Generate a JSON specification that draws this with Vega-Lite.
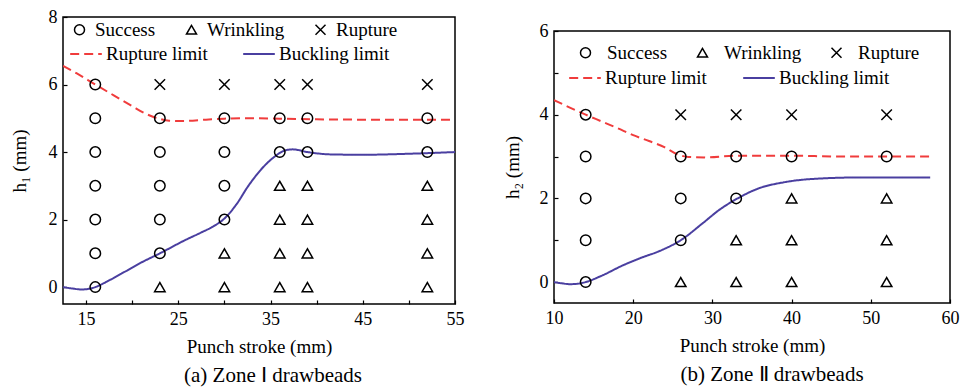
{
  "$schema": "https://vega.github.io/schema/vega-lite/v6.json",
  "padding": {"left": 9, "top": 7, "right": 0, "bottom": 5},
  "background": "white",
  "spacing": 37,
  "config": {
    "font": "Liberation Serif",
    "view": {"stroke": "black", "strokeWidth": 1.5},
    "axis": {
      "labelFont": "Liberation Serif", "labelFontSize": 18, "labelColor": "black",
      "titleFont": "Liberation Serif", "titleFontSize": 19, "titleFontWeight": "normal", "titleColor": "black",
      "domain": false, "grid": false, "tickColor": "black", "tickWidth": 1.2, "tickSize": -4,
      "labelPadding": 10, "labelFlush": false, "labelOverlap": false
    },
    "legend": {
      "labelFont": "Liberation Serif", "labelFontSize": 19, "labelColor": "black"
    },
    "title": {"font": "Liberation Serif", "fontSize": 21, "fontWeight": "normal", "color": "black"}
  },
  "datasets": {
    "pts1": [
      {"x": 16, "h": 0, "outcome": "Success"}, {"x": 16, "h": 1, "outcome": "Success"}, {"x": 16, "h": 2, "outcome": "Success"}, {"x": 16, "h": 3, "outcome": "Success"}, {"x": 16, "h": 4, "outcome": "Success"}, {"x": 16, "h": 5, "outcome": "Success"}, {"x": 16, "h": 6, "outcome": "Success"},
      {"x": 23, "h": 0, "outcome": "Wrinkling"}, {"x": 23, "h": 1, "outcome": "Success"}, {"x": 23, "h": 2, "outcome": "Success"}, {"x": 23, "h": 3, "outcome": "Success"}, {"x": 23, "h": 4, "outcome": "Success"}, {"x": 23, "h": 5, "outcome": "Success"}, {"x": 23, "h": 6, "outcome": "Rupture"},
      {"x": 30, "h": 0, "outcome": "Wrinkling"}, {"x": 30, "h": 1, "outcome": "Wrinkling"}, {"x": 30, "h": 2, "outcome": "Success"}, {"x": 30, "h": 3, "outcome": "Success"}, {"x": 30, "h": 4, "outcome": "Success"}, {"x": 30, "h": 5, "outcome": "Success"}, {"x": 30, "h": 6, "outcome": "Rupture"},
      {"x": 36, "h": 0, "outcome": "Wrinkling"}, {"x": 36, "h": 1, "outcome": "Wrinkling"}, {"x": 36, "h": 2, "outcome": "Wrinkling"}, {"x": 36, "h": 3, "outcome": "Wrinkling"}, {"x": 36, "h": 4, "outcome": "Success"}, {"x": 36, "h": 5, "outcome": "Success"}, {"x": 36, "h": 6, "outcome": "Rupture"},
      {"x": 39, "h": 0, "outcome": "Wrinkling"}, {"x": 39, "h": 1, "outcome": "Wrinkling"}, {"x": 39, "h": 2, "outcome": "Wrinkling"}, {"x": 39, "h": 3, "outcome": "Wrinkling"}, {"x": 39, "h": 4, "outcome": "Success"}, {"x": 39, "h": 5, "outcome": "Success"}, {"x": 39, "h": 6, "outcome": "Rupture"},
      {"x": 52, "h": 0, "outcome": "Wrinkling"}, {"x": 52, "h": 1, "outcome": "Wrinkling"}, {"x": 52, "h": 2, "outcome": "Wrinkling"}, {"x": 52, "h": 3, "outcome": "Wrinkling"}, {"x": 52, "h": 4, "outcome": "Success"}, {"x": 52, "h": 5, "outcome": "Success"}, {"x": 52, "h": 6, "outcome": "Rupture"}
    ],
    "curves1": [
      {"x": 12.5, "h": 6.55, "curve": "Rupture limit"}, {"x": 14, "h": 6.33, "curve": "Rupture limit"}, {"x": 16, "h": 6.0, "curve": "Rupture limit"}, {"x": 18, "h": 5.68, "curve": "Rupture limit"}, {"x": 20, "h": 5.36, "curve": "Rupture limit"}, {"x": 21.5, "h": 5.13, "curve": "Rupture limit"}, {"x": 23, "h": 4.98, "curve": "Rupture limit"}, {"x": 24, "h": 4.93, "curve": "Rupture limit"}, {"x": 25.5, "h": 4.92, "curve": "Rupture limit"}, {"x": 28, "h": 4.96, "curve": "Rupture limit"}, {"x": 30, "h": 4.99, "curve": "Rupture limit"}, {"x": 33, "h": 5.0, "curve": "Rupture limit"}, {"x": 36, "h": 4.99, "curve": "Rupture limit"}, {"x": 40, "h": 4.97, "curve": "Rupture limit"}, {"x": 45, "h": 4.96, "curve": "Rupture limit"}, {"x": 50, "h": 4.96, "curve": "Rupture limit"}, {"x": 55, "h": 4.96, "curve": "Rupture limit"},
      {"x": 12.5, "h": 0.0, "curve": "Buckling limit"}, {"x": 13.5, "h": -0.04, "curve": "Buckling limit"}, {"x": 14.5, "h": -0.07, "curve": "Buckling limit"}, {"x": 15.5, "h": -0.04, "curve": "Buckling limit"}, {"x": 16, "h": 0.0, "curve": "Buckling limit"}, {"x": 17.5, "h": 0.2, "curve": "Buckling limit"}, {"x": 19.3, "h": 0.47, "curve": "Buckling limit"}, {"x": 21, "h": 0.73, "curve": "Buckling limit"}, {"x": 23, "h": 1.0, "curve": "Buckling limit"}, {"x": 25.8, "h": 1.4, "curve": "Buckling limit"}, {"x": 27.5, "h": 1.62, "curve": "Buckling limit"}, {"x": 28.8, "h": 1.8, "curve": "Buckling limit"}, {"x": 30, "h": 2.03, "curve": "Buckling limit"}, {"x": 31.3, "h": 2.45, "curve": "Buckling limit"}, {"x": 32.6, "h": 3.0, "curve": "Buckling limit"}, {"x": 35.15, "h": 3.8, "curve": "Buckling limit"}, {"x": 36.6, "h": 4.05, "curve": "Buckling limit"}, {"x": 37.4, "h": 4.08, "curve": "Buckling limit"}, {"x": 39, "h": 4.0, "curve": "Buckling limit"}, {"x": 41.6, "h": 3.93, "curve": "Buckling limit"}, {"x": 45, "h": 3.92, "curve": "Buckling limit"}, {"x": 50, "h": 3.95, "curve": "Buckling limit"}, {"x": 55, "h": 4.0, "curve": "Buckling limit"}
    ],
    "pts2": [
      {"x": 14, "h": 0, "outcome": "Success"}, {"x": 14, "h": 1, "outcome": "Success"}, {"x": 14, "h": 2, "outcome": "Success"}, {"x": 14, "h": 3, "outcome": "Success"}, {"x": 14, "h": 4, "outcome": "Success"},
      {"x": 26, "h": 0, "outcome": "Wrinkling"}, {"x": 26, "h": 1, "outcome": "Success"}, {"x": 26, "h": 2, "outcome": "Success"}, {"x": 26, "h": 3, "outcome": "Success"}, {"x": 26, "h": 4, "outcome": "Rupture"},
      {"x": 33, "h": 0, "outcome": "Wrinkling"}, {"x": 33, "h": 1, "outcome": "Wrinkling"}, {"x": 33, "h": 2, "outcome": "Success"}, {"x": 33, "h": 3, "outcome": "Success"}, {"x": 33, "h": 4, "outcome": "Rupture"},
      {"x": 40, "h": 0, "outcome": "Wrinkling"}, {"x": 40, "h": 1, "outcome": "Wrinkling"}, {"x": 40, "h": 2, "outcome": "Wrinkling"}, {"x": 40, "h": 3, "outcome": "Success"}, {"x": 40, "h": 4, "outcome": "Rupture"},
      {"x": 52, "h": 0, "outcome": "Wrinkling"}, {"x": 52, "h": 1, "outcome": "Wrinkling"}, {"x": 52, "h": 2, "outcome": "Wrinkling"}, {"x": 52, "h": 3, "outcome": "Success"}, {"x": 52, "h": 4, "outcome": "Rupture"}
    ],
    "curves2": [
      {"x": 10, "h": 4.35, "curve": "Rupture limit"}, {"x": 12, "h": 4.17, "curve": "Rupture limit"}, {"x": 14, "h": 4.0, "curve": "Rupture limit"}, {"x": 16, "h": 3.84, "curve": "Rupture limit"}, {"x": 18, "h": 3.68, "curve": "Rupture limit"}, {"x": 20, "h": 3.51, "curve": "Rupture limit"}, {"x": 22, "h": 3.37, "curve": "Rupture limit"}, {"x": 24, "h": 3.22, "curve": "Rupture limit"}, {"x": 25.5, "h": 3.06, "curve": "Rupture limit"}, {"x": 27, "h": 2.99, "curve": "Rupture limit"}, {"x": 29, "h": 2.98, "curve": "Rupture limit"}, {"x": 33, "h": 3.02, "curve": "Rupture limit"}, {"x": 40, "h": 3.02, "curve": "Rupture limit"}, {"x": 46, "h": 3.0, "curve": "Rupture limit"}, {"x": 52, "h": 3.0, "curve": "Rupture limit"}, {"x": 57.5, "h": 3.0, "curve": "Rupture limit"},
      {"x": 10, "h": 0.0, "curve": "Buckling limit"}, {"x": 11, "h": -0.03, "curve": "Buckling limit"}, {"x": 12, "h": -0.05, "curve": "Buckling limit"}, {"x": 13, "h": -0.04, "curve": "Buckling limit"}, {"x": 14, "h": 0.0, "curve": "Buckling limit"}, {"x": 16, "h": 0.15, "curve": "Buckling limit"}, {"x": 18.7, "h": 0.4, "curve": "Buckling limit"}, {"x": 21, "h": 0.58, "curve": "Buckling limit"}, {"x": 23.3, "h": 0.74, "curve": "Buckling limit"}, {"x": 26, "h": 1.0, "curve": "Buckling limit"}, {"x": 28.8, "h": 1.41, "curve": "Buckling limit"}, {"x": 30.9, "h": 1.73, "curve": "Buckling limit"}, {"x": 33, "h": 1.98, "curve": "Buckling limit"}, {"x": 36, "h": 2.25, "curve": "Buckling limit"}, {"x": 38.9, "h": 2.38, "curve": "Buckling limit"}, {"x": 42.3, "h": 2.46, "curve": "Buckling limit"}, {"x": 48.6, "h": 2.5, "curve": "Buckling limit"}, {"x": 57.5, "h": 2.5, "curve": "Buckling limit"}
    ]
  },
  "hconcat": [
    {
      "width": 392, "height": 287,
      "title": {"text": "(a) Zone Ⅰ drawbeads", "orient": "bottom", "anchor": "middle", "frame": "group", "dx": 14, "offset": 9},
      "layer": [
        {
          "data": {"name": "curves1"},
          "mark": {"type": "line", "interpolate": "monotone", "strokeWidth": 2, "clip": true},
          "encoding": {
            "x": {"field": "x", "type": "quantitative", "scale": {"domain": [12.5, 55], "nice": false, "zero": false},
              "axis": {"title": "Punch stroke (mm)", "values": [15, 17.5, 20, 22.5, 25, 27.5, 30, 32.5, 35, 37.5, 40, 42.5, 45, 47.5, 50, 52.5, 55], "labelExpr": "indexof([15, 25, 35, 45, 55], datum.value) >= 0 ? datum.label : ''", "labelOverlap": false, "titlePadding": 9}},
            "y": {"field": "h", "type": "quantitative", "scale": {"domain": [-0.5, 8], "nice": false, "zero": false},
              "axis": {"title": "h₁ (mm)", "values": [0, 0.5, 1, 1.5, 2, 2.5, 3, 3.5, 4, 4.5, 5, 5.5, 6, 6.5, 7, 7.5, 8], "labelExpr": "indexof([0, 2, 4, 6, 8], datum.value) >= 0 ? datum.label : ''", "labelOverlap": false, "titlePadding": 19}},
            "color": {"field": "curve", "type": "nominal", "scale": {"domain": ["Rupture limit", "Buckling limit"], "range": ["#f03c3c", "#4a3fa0"]},
              "legend": {"title": null, "orient": "none", "legendX": 6, "legendY": 20, "direction": "horizontal", "columns": 2, "columnPadding": 31, "symbolType": "stroke", "symbolSize": 1000, "symbolStrokeWidth": 2, "labelOffset": 3}},
            "strokeDash": {"field": "curve", "type": "nominal", "scale": {"domain": ["Rupture limit", "Buckling limit"], "range": [[9, 5], [1, 0]]}}
          }
        },
        {
          "data": {"name": "pts1"},
          "mark": {"type": "point", "filled": false, "color": "black", "strokeWidth": 1.5, "size": 110, "opacity": 1},
          "encoding": {
            "x": {"field": "x", "type": "quantitative"},
            "y": {"field": "h", "type": "quantitative"},
            "shape": {"field": "outcome", "type": "nominal", "scale": {"domain": ["Success", "Wrinkling", "Rupture"], "range": ["circle", "triangle-up", "M-1,-1L1,1M-1,1L1,-1"]},
              "legend": {"title": null, "orient": "none", "legendX": 7, "legendY": 3, "direction": "horizontal", "columns": 3, "columnPadding": 26, "symbolSize": 100, "symbolStrokeColor": "black", "symbolFillColor": "transparent", "symbolStrokeWidth": 1.5, "symbolOpacity": 1, "labelOffset": 6}}
          }
        }
      ],
      "resolve": {"scale": {"color": "shared", "strokeDash": "shared"}}
    },
    {
      "spacing": 3,
      "vconcat": [
        {
          "width": 396, "height": 1,
          "view": {"stroke": "transparent", "strokeWidth": 0},
          "data": {"values": []},
          "mark": {"type": "rule"},
          "encoding": {}
        },
        {
          "width": 396, "height": 272,
          "title": {"text": "(b) Zone Ⅱ drawbeads", "orient": "bottom", "anchor": "middle", "frame": "group", "dx": 20, "offset": 9},
          "layer": [
            {
              "data": {"name": "curves2"},
              "mark": {"type": "line", "interpolate": "monotone", "strokeWidth": 2, "clip": true},
              "encoding": {
                "x": {"field": "x", "type": "quantitative", "scale": {"domain": [10, 60], "nice": false, "zero": false},
                  "axis": {"title": "Punch stroke (mm)", "values": [10, 12.5, 15, 17.5, 20, 22.5, 25, 27.5, 30, 32.5, 35, 37.5, 40, 42.5, 45, 47.5, 50, 52.5, 55, 57.5, 60], "labelExpr": "indexof([10, 20, 30, 40, 50, 60], datum.value) >= 0 ? datum.label : ''", "labelOverlap": false, "titlePadding": 9}},
                "y": {"field": "h", "type": "quantitative", "scale": {"domain": [-0.5, 6], "nice": false, "zero": false},
                  "axis": {"title": "h₂ (mm)", "values": [0, 0.5, 1, 1.5, 2, 2.5, 3, 3.5, 4, 4.5, 5, 5.5, 6], "labelExpr": "indexof([0, 2, 4, 6], datum.value) >= 0 ? datum.label : ''", "labelOverlap": false, "titlePadding": 17}},
                "color": {"field": "curve", "type": "nominal", "scale": {"domain": ["Rupture limit", "Buckling limit"], "range": ["#f03c3c", "#4a3fa0"]},
                  "legend": {"title": null, "orient": "none", "legendX": 14, "legendY": 44, "direction": "horizontal", "columns": 2, "columnPadding": 32, "symbolType": "stroke", "symbolSize": 1000, "symbolStrokeWidth": 2, "labelOffset": 3}},
                "strokeDash": {"field": "curve", "type": "nominal", "scale": {"domain": ["Rupture limit", "Buckling limit"], "range": [[9, 5], [1, 0]]}}
              }
            },
            {
              "data": {"name": "pts2"},
              "mark": {"type": "point", "filled": false, "color": "black", "strokeWidth": 1.5, "size": 110, "opacity": 1},
              "encoding": {
                "x": {"field": "x", "type": "quantitative"},
                "y": {"field": "h", "type": "quantitative"},
                "shape": {"field": "outcome", "type": "nominal", "scale": {"domain": ["Success", "Wrinkling", "Rupture"], "range": ["circle", "triangle-up", "M-1,-1L1,1M-1,1L1,-1"]},
                  "legend": {"title": null, "orient": "none", "legendX": 22, "legendY": 26, "direction": "horizontal", "columns": 3, "columnPadding": 25, "symbolSize": 100, "symbolStrokeColor": "black", "symbolFillColor": "transparent", "symbolStrokeWidth": 1.5, "symbolOpacity": 1, "labelOffset": 12}}
              }
            }
          ]
        }
      ]
    }
  ],
  "resolve": {
    "scale": {"x": "independent", "y": "independent", "shape": "independent", "color": "independent", "strokeDash": "independent"},
    "legend": {"shape": "independent", "color": "independent", "strokeDash": "independent"}
  }
}
